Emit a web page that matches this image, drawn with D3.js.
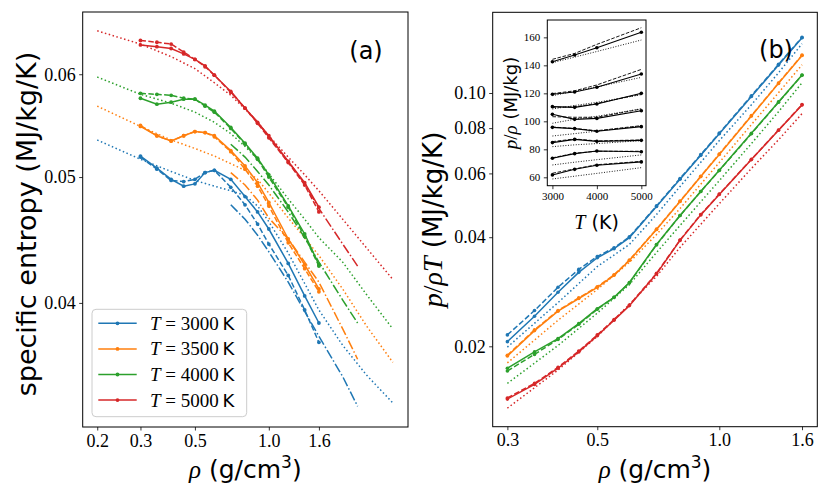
<!DOCTYPE html>
<html>
<head>
<meta charset="utf-8">
<script src="https://cdn.jsdelivr.net/npm/d3@7"></script>
<style>
  body { margin: 0; background: #fff; }
</style>
</head>
<body>
<div id="chart"></div>
<script>
// ---- data ----
const temps = [3000, 3500, 4000, 5000];
const colors = ["#1f77b4", "#ff7f0e", "#2ca02c", "#d62728"];

// panel (a): specific entropy (MJ/kg/K) vs density (g/cm^3)
const rhoMarked = [0.3, 0.35, 0.4, 0.45, 0.5, 0.55, 0.6, 0.7, 0.8, 0.9, 1.0, 1.2, 1.4, 1.6];
const rhoFitA = [0.7, 0.8, 0.9, 1.0, 1.2, 1.4, 1.6, 2.0, 2.3];
const rhoModelA = [0.2, 0.3, 0.4, 0.5, 0.6, 0.7, 0.8, 0.9, 1.0, 1.2, 1.4, 1.6, 2.0, 2.5, 3.2];

const entropySolid = [
  [0.0519, 0.0508, 0.0498, 0.0492, 0.0494, 0.0504, 0.0506, 0.0498, 0.0483, 0.0470, 0.0456, 0.0429, 0.0405, 0.0386],
  [0.0547, 0.0538, 0.0533, 0.0538, 0.0542, 0.0541, 0.0538, 0.0524, 0.0510, 0.0495, 0.0478, 0.0448, 0.0428, 0.0410],
  [0.0575, 0.0569, 0.0571, 0.0574, 0.0574, 0.0568, 0.0562, 0.0546, 0.0531, 0.0517, 0.0502, 0.0475, 0.0452, 0.0428],
  [0.0632, 0.0630, 0.0628, 0.0622, 0.0616, 0.0609, 0.0599, 0.0582, 0.0565, 0.0551, 0.0538, 0.0514, 0.0495, 0.0474]
];
const entropyDashed = [
  [0.0518, 0.0507, 0.0497, 0.0496, 0.0498, 0.0504, 0.0506, 0.0491, 0.0476, 0.0460, 0.0444, 0.0420, 0.0395, 0.0373],
  [0.0548, 0.0538, 0.0533, 0.0538, 0.0542, 0.0541, 0.0537, 0.0523, 0.0507, 0.0492, 0.0475, 0.0445, 0.0425, 0.0408],
  [0.0580, 0.0579, 0.0578, 0.0575, 0.0574, 0.0567, 0.0561, 0.0545, 0.0530, 0.0516, 0.0500, 0.0474, 0.0450, 0.0427],
  [0.0637, 0.0635, 0.0633, 0.0624, 0.0616, 0.0608, 0.0599, 0.0581, 0.0565, 0.0550, 0.0536, 0.0513, 0.0493, 0.0470]
];
const entropyFit = [
  [0.0476, 0.0464, 0.0451, 0.0438, 0.0415, 0.0394, 0.0377, 0.0351, 0.0333],
  [0.0504, 0.0493, 0.0480, 0.0465, 0.0448, 0.0430, 0.0415, 0.0382, 0.0362],
  [0.0530, 0.0518, 0.0505, 0.0493, 0.0470, 0.0449, 0.0430, 0.0402, 0.0386],
  [0.0582, 0.0565, 0.0551, 0.0537, 0.0514, 0.0494, 0.0473, 0.0444, 0.0427]
];
const entropyModel = [
  [0.0534, 0.0516, 0.0505, 0.0497, 0.0492, 0.0488, 0.0484, 0.0475, 0.0462, 0.0437, 0.0414, 0.0395, 0.0371, 0.0352, 0.0335],
  [0.0567, 0.0547, 0.0534, 0.0526, 0.0519, 0.0512, 0.0506, 0.0498, 0.0486, 0.0465, 0.0449, 0.0435, 0.0410, 0.0384, 0.0360],
  [0.0597, 0.0579, 0.0570, 0.0561, 0.0551, 0.0540, 0.0528, 0.0516, 0.0503, 0.0481, 0.0464, 0.0449, 0.0430, 0.0406, 0.0382],
  [0.0648, 0.0633, 0.0619, 0.0606, 0.0591, 0.0578, 0.0564, 0.0551, 0.0538, 0.0518, 0.0502, 0.0488, 0.0464, 0.0441, 0.0417]
];

// panel (b): p/(rho T) (MJ/kg/K) vs density
const rhoModelB = [0.3, 0.4, 0.5, 0.6, 0.7, 0.8, 1.0, 1.2, 1.4, 1.6];
const pressSolid = [
  [0.0206, 0.0242, 0.0282, 0.0320, 0.0351, 0.0372, 0.0399, 0.0486, 0.0578, 0.0673, 0.0772, 0.0978, 0.1194, 0.1420],
  [0.0188, 0.0221, 0.0250, 0.0271, 0.0291, 0.0314, 0.0345, 0.0420, 0.0502, 0.0588, 0.0677, 0.0864, 0.1063, 0.1269],
  [0.0174, 0.0193, 0.0210, 0.0231, 0.0254, 0.0273, 0.0300, 0.0382, 0.0459, 0.0535, 0.0612, 0.0774, 0.0945, 0.1121],
  [0.0143, 0.0157, 0.0174, 0.0193, 0.0214, 0.0236, 0.0259, 0.0317, 0.0392, 0.0461, 0.0525, 0.0655, 0.0789, 0.0927]
];
const pressDashed = [
  [0.0215, 0.0251, 0.0291, 0.0326, 0.0354, 0.0374, 0.0401, 0.0488, 0.0581, 0.0676, 0.0775, 0.0983, 0.1200, 0.1424],
  [0.0189, 0.0222, 0.0251, 0.0272, 0.0292, 0.0315, 0.0346, 0.0421, 0.0503, 0.0589, 0.0679, 0.0866, 0.1066, 0.1272],
  [0.0171, 0.0190, 0.0209, 0.0230, 0.0253, 0.0273, 0.0299, 0.0381, 0.0459, 0.0535, 0.0611, 0.0772, 0.0943, 0.1119],
  [0.0144, 0.0158, 0.0175, 0.0194, 0.0215, 0.0237, 0.0260, 0.0318, 0.0393, 0.0462, 0.0526, 0.0656, 0.0790, 0.0929]
];
const pressModel = [
  [0.0199, 0.0264, 0.0332, 0.0382, 0.0462, 0.0552, 0.0739, 0.0928, 0.1137, 0.1367],
  [0.0180, 0.0236, 0.0287, 0.0341, 0.0407, 0.0480, 0.0643, 0.0818, 0.1002, 0.1196],
  [0.0158, 0.0201, 0.0247, 0.0296, 0.0363, 0.0431, 0.0573, 0.0725, 0.0888, 0.1067],
  [0.0135, 0.0172, 0.0213, 0.0261, 0.0312, 0.0375, 0.0495, 0.0619, 0.0743, 0.0877]
];

// inset: p/rho (MJ/kg) vs T, one row per density
const insetT = [3000, 3500, 4000, 5000];
const insetSolid = [
  [142.6, 147.4, 152.6, 163.6],
  [119.3, 121.0, 124.3, 133.8],
  [110.5, 110.0, 112.4, 120.0],
  [105.0, 101.4, 102.1, 107.6],
  [95.7, 94.8, 92.9, 96.2],
  [84.8, 87.1, 85.7, 86.4],
  [73.6, 76.9, 78.8, 78.3],
  [61.7, 65.7, 68.6, 71.0]
];
const insetDashed = [
  [144.3, 148.5, 155.0, 166.9],
  [119.8, 121.8, 126.0, 137.1],
  [110.0, 110.3, 112.8, 119.5],
  [103.3, 102.9, 102.9, 108.8],
  [95.9, 94.9, 93.3, 96.9],
  [85.5, 87.4, 86.0, 86.7],
  [73.9, 77.2, 78.6, 78.6],
  [62.9, 66.0, 69.0, 71.4]
];
const insetDotted = [
  [141.9, 145.9, 149.9, 158.1],
  [118.3, 121.5, 124.6, 131.4],
  [108.8, 111.3, 113.6, 119.0],
  [98.6, 101.5, 103.6, 109.0],
  [89.5, 91.2, 93.0, 96.7],
  [81.9, 83.2, 84.1, 86.2],
  [68.8, 70.8, 72.6, 76.0],
  [58.8, 60.8, 62.8, 66.9]
];

// tick labels
const xTicksA = [0.2, 0.3, 0.5, 1.0, 1.6];
const yTicksA = [0.04, 0.05, 0.06];
const xTicksB = [0.3, 0.5, 1.0, 1.6];
const yTicksB = [0.02, 0.04, 0.06, 0.08, 0.10];
const xTicksIn = [3000, 4000, 5000];
const yTicksIn = [60, 80, 100, 120, 140, 160];

// ---- drawing ----
const SERIF = "'Liberation Serif', 'DejaVu Serif', serif";
const SANS = "'DejaVu Sans', sans-serif";
const DASH = {dashed: "5.5,2.4", dashdot: "9.6,2.4,1.5,2.4", dotted: "1.5,2.5"};

const svg = d3.select("#chart").append("svg")
  .attr("width", 830).attr("height", 498)
  .style("font-family", SANS);

function plotLine(g, x, y, xs, ys, color, dash, marker, width) {
  const pts = xs.map((r, i) => [r, ys[i]]);
  g.append("path").datum(pts)
    .attr("fill", "none")
    .attr("stroke", color)
    .attr("stroke-width", width || 1.5)
    .attr("stroke-dasharray", dash || null)
    .attr("d", d3.line().x(d => x(d[0])).y(d => y(d[1])));
  if (marker) {
    g.append("g").selectAll("circle").data(pts).join("circle")
      .attr("cx", d => x(d[0])).attr("cy", d => y(d[1]))
      .attr("r", marker).attr("fill", color);
  }
}

function drawAxes(g, x, y, box, xt, xf, yt, yf, fs) {
  const bx = g.append("g").attr("transform", "translate(0," + box.bottom + ")")
    .call(d3.axisBottom(x).tickValues(xt).tickFormat(xf).tickSize(3.5).tickPadding(3.5));
  const by = g.append("g").attr("transform", "translate(" + box.left + ",0)")
    .call(d3.axisLeft(y).tickValues(yt).tickFormat(yf).tickSize(3.5).tickPadding(3.5));
  [bx, by].forEach(a => {
    a.select(".domain").remove();
    a.attr("font-family", SERIF).attr("font-size", fs);
    a.selectAll("line").attr("stroke", "#000").attr("stroke-width", 0.8);
    a.selectAll("text").attr("fill", "#000");
  });
  g.append("rect")
    .attr("x", box.left).attr("y", box.top)
    .attr("width", box.right - box.left).attr("height", box.bottom - box.top)
    .attr("fill", "none").attr("stroke", "#000").attr("stroke-width", 1);
}

// ---- panel (a) ----
const boxA = {left: 82.7, right: 408, top: 12, bottom: 427};
const xA = d3.scaleLog().domain([0.1745, 3.69]).range([boxA.left, boxA.right]);
const yA = d3.scaleLog().domain([0.0321, 0.067]).range([boxA.bottom, boxA.top]);
const gA = svg.append("g");

temps.forEach((t, i) => {
  plotLine(gA, xA, yA, rhoMarked, entropySolid[i], colors[i], null, 1.9);
  plotLine(gA, xA, yA, rhoMarked, entropyDashed[i], colors[i], DASH.dashed, 1.9);
  plotLine(gA, xA, yA, rhoFitA, entropyFit[i], colors[i], DASH.dashdot);
  plotLine(gA, xA, yA, rhoModelA, entropyModel[i], colors[i], DASH.dotted);
});
drawAxes(gA, xA, yA, boxA, xTicksA, d3.format(".1f"), yTicksA, d3.format(".2f"), 18);

gA.append("text").attr("x", 366).attr("y", 59).attr("text-anchor", "middle")
  .attr("font-size", 24).text("(a)");

// legend
const leg = gA.append("g");
leg.append("rect").attr("x", 92).attr("y", 309.3).attr("width", 154.7).attr("height", 107.4)
  .attr("rx", 4).attr("fill", "#fff").attr("fill-opacity", 0.8)
  .attr("stroke", "#ccc").attr("stroke-width", 1);
temps.forEach((t, i) => {
  const yy = 323.3 + i * 25.6;
  leg.append("line").attr("x1", 98.3).attr("x2", 136.7).attr("y1", yy).attr("y2", yy)
    .attr("stroke", colors[i]).attr("stroke-width", 1.5);
  leg.append("circle").attr("cx", 117.5).attr("cy", yy).attr("r", 1.9).attr("fill", colors[i]);
  const tx = leg.append("text").attr("x", 150).attr("y", yy + 6.5).attr("font-size", 19);
  tx.append("tspan").attr("font-family", SERIF).attr("font-style", "italic").text("T");
  tx.append("tspan").attr("font-family", SERIF).text(" = " + t);
  tx.append("tspan").attr("font-family", SANS).attr("font-size", 18).text("\u2009K");
});

// labels
function rhoLabel(g, cx) {
  const t = g.append("text").attr("x", cx).attr("y", 478).attr("text-anchor", "middle")
    .attr("font-size", 25);
  t.append("tspan").attr("font-family", SERIF).attr("font-style", "italic").text("\u03c1");
  t.append("tspan").text(" (g/cm");
  t.append("tspan").attr("font-size", 17).attr("dy", -10).text("3");
  t.append("tspan").attr("dy", 10).text(")");
}
rhoLabel(gA, 245.35);
gA.append("text").attr("transform", "translate(36,224) rotate(-90)")
  .attr("text-anchor", "middle").attr("font-size", 27)
  .text("specific entropy (MJ/kg/K)");

// ---- panel (b) ----
const boxB = {left: 492.7, right: 817.3, top: 12.3, bottom: 426.7};
const xB = d3.scaleLog().domain([0.276, 1.745]).range([boxB.left, boxB.right]);
const yB = d3.scaleLog().domain([0.0120, 0.167]).range([boxB.bottom, boxB.top]);
const gB = svg.append("g");

temps.forEach((t, i) => {
  plotLine(gB, xB, yB, rhoMarked, pressSolid[i], colors[i], null, 1.8);
  plotLine(gB, xB, yB, rhoMarked, pressDashed[i], colors[i], DASH.dashed, 1.8);
  plotLine(gB, xB, yB, rhoModelB, pressModel[i], colors[i], DASH.dotted);
});
drawAxes(gB, xB, yB, boxB, xTicksB, d3.format(".1f"), yTicksB, d3.format(".2f"), 18);

rhoLabel(gB, 655);
const ylB = gB.append("text").attr("transform", "translate(442,219.5) rotate(-90)")
  .attr("text-anchor", "middle").attr("font-size", 26);
ylB.append("tspan").attr("font-family", SERIF).attr("font-style", "italic").attr("font-size", 28).text("p");
ylB.append("tspan").attr("font-family", SERIF).attr("font-size", 28).text("/");
ylB.append("tspan").attr("font-family", SERIF).attr("font-style", "italic").attr("font-size", 28).text("\u03c1T");
ylB.append("tspan").text(" (MJ/kg/K)");

gB.append("text").attr("x", 776).attr("y", 58).attr("text-anchor", "middle")
  .attr("font-size", 24).text("(b)");

// ---- inset ----
const boxIn = {left: 547.3, right: 646, top: 20, bottom: 185.7};
const xIn = d3.scaleLinear().domain([2885, 5105]).range([boxIn.left, boxIn.right]);
const yIn = d3.scaleLinear().domain([54, 172.4]).range([boxIn.bottom, boxIn.top]);
const gIn = svg.append("g");
gIn.append("rect").attr("x", boxIn.left).attr("y", boxIn.top)
  .attr("width", boxIn.right - boxIn.left).attr("height", boxIn.bottom - boxIn.top)
  .attr("fill", "#fff");

insetSolid.forEach((row, k) => {
  plotLine(gIn, xIn, yIn, insetT, insetDotted[k], "#000", "1,1.6", null, 0.9);
  plotLine(gIn, xIn, yIn, insetT, insetDashed[k], "#000", "3.6,1.6", null, 0.9);
  plotLine(gIn, xIn, yIn, insetT, row, "#000", null, 1.8, 1.1);
});
drawAxes(gIn, xIn, yIn, boxIn, xTicksIn, d3.format("d"), yTicksIn, d3.format("d"), 11);

const xlIn = gIn.append("text").attr("x", 596.6).attr("y", 229).attr("text-anchor", "middle")
  .attr("font-size", 19);
xlIn.append("tspan").attr("font-family", SERIF).attr("font-style", "italic").attr("font-size", 20).text("T");
xlIn.append("tspan").text(" (K)");

const ylIn = gIn.append("text").attr("transform", "translate(517,103) rotate(-90)")
  .attr("text-anchor", "middle").attr("font-size", 18);
ylIn.append("tspan").attr("font-family", SERIF).attr("font-style", "italic").attr("font-size", 19).text("p");
ylIn.append("tspan").attr("font-family", SERIF).attr("font-size", 19).text("/");
ylIn.append("tspan").attr("font-family", SERIF).attr("font-style", "italic").attr("font-size", 19).text("\u03c1");
ylIn.append("tspan").text(" (MJ/kg)");
</script>
</body>
</html>
